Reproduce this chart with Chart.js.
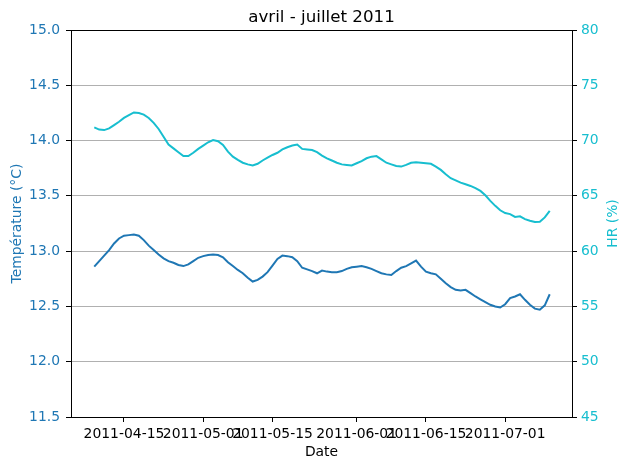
<!DOCTYPE html>
<html>
<head>
<meta charset="utf-8">
<script src="https://cdn.jsdelivr.net/npm/chart.js@4"></script>
<style>
  html, body { margin: 0; padding: 0; background: #fff; }
  canvas { display: block; }
</style>
</head>
<body>
<canvas id="chart" width="630" height="470"></canvas>
<script>
  // daily values, first day is 2011-04-09 (day 8 counted from 2011-04-01)
  const dayStart = 8;

  const tempC = [
    12.86, 12.91, 12.96, 13.01, 13.07, 13.115, 13.14, 13.145, 13.15, 13.14,
    13.10, 13.05, 13.01, 12.97, 12.935, 12.91, 12.895, 12.875, 12.865, 12.88,
    12.91, 12.94, 12.955, 12.965, 12.97, 12.965, 12.945, 12.90, 12.865, 12.83,
    12.80, 12.76, 12.725, 12.74, 12.77, 12.81, 12.87, 12.93, 12.96, 12.955,
    12.945, 12.91, 12.85, 12.835, 12.82, 12.80, 12.825, 12.815, 12.81, 12.81,
    12.82, 12.84, 12.855, 12.86, 12.865, 12.855, 12.84, 12.82, 12.80, 12.79,
    12.785, 12.82, 12.85, 12.865, 12.89, 12.915, 12.86, 12.815, 12.80, 12.79,
    12.75, 12.71, 12.675, 12.65, 12.645, 12.65, 12.62, 12.59, 12.565, 12.54,
    12.515, 12.50, 12.49, 12.52, 12.575, 12.59, 12.61, 12.56, 12.515, 12.48,
    12.47, 12.51, 12.61
  ];

  const hrPct = [
    71.2, 71.0, 70.95, 71.1, 71.4, 71.7, 72.05, 72.3, 72.55, 72.5,
    72.35, 72.05, 71.6, 71.05, 70.35, 69.65, 69.3, 68.95, 68.6, 68.6,
    68.9, 69.25, 69.55, 69.85, 70.05, 69.95, 69.6, 69.0, 68.55, 68.25,
    68.0, 67.85, 67.75, 67.9, 68.2, 68.45, 68.7, 68.9, 69.2, 69.4,
    69.55, 69.65, 69.25, 69.2, 69.15, 68.95, 68.65, 68.4, 68.2, 68.0,
    67.85, 67.8, 67.75, 67.95, 68.15, 68.4, 68.55, 68.6, 68.3, 68.0,
    67.85, 67.7, 67.65, 67.8, 68.0, 68.05, 68.0, 67.95, 67.9, 67.65,
    67.35, 66.95, 66.6, 66.4, 66.2, 66.05, 65.9, 65.7, 65.45, 65.05,
    64.55, 64.1, 63.7, 63.45, 63.35, 63.1, 63.15, 62.9, 62.75, 62.63,
    62.65, 63.05, 63.65
  ];

  const tickDays = [14, 30, 44, 61, 75, 91];
  const tickLabels = ["2011-04-15", "2011-05-01", "2011-05-15", "2011-06-01", "2011-06-15", "2011-07-01"];

  const T_COLOR = "#1f77b4";
  const HR_COLOR = "#17becf";

  Chart.defaults.font.family = "'DejaVu Sans', sans-serif";
  Chart.defaults.font.size = 13.9;
  Chart.defaults.color = "#000";

  function toPoints(values) {
    return values.map((v, i) => ({ x: dayStart + i, y: v }));
  }

  // top spine + right label (bottom-to-top like matplotlib)
  const framePlugin = {
    id: "frame",
    afterDraw(chart) {
      const { ctx, chartArea: a } = chart;
      ctx.save();
      ctx.strokeStyle = "#000";
      ctx.lineWidth = 1;
      ctx.beginPath();
      ctx.moveTo(a.left, Math.round(a.top) + 0.5);
      ctx.lineTo(a.right, Math.round(a.top) + 0.5);
      ctx.stroke();
      ctx.translate(613, (a.top + a.bottom) / 2);
      ctx.rotate(-Math.PI / 2);
      ctx.fillStyle = HR_COLOR;
      ctx.font = "13.9px 'DejaVu Sans'";
      ctx.textAlign = "center";
      ctx.textBaseline = "middle";
      ctx.fillText("HR (%)", 0, 0);
      ctx.restore();
    }
  };

  new Chart(document.getElementById("chart").getContext("2d"), {
    type: "line",
    data: {
      datasets: [
        {
          label: "Température",
          data: toPoints(tempC),
          borderColor: T_COLOR,
          borderWidth: 2,
          pointRadius: 0,
          tension: 0,
          yAxisID: "y",
        },
        {
          label: "HR",
          data: toPoints(hrPct),
          borderColor: HR_COLOR,
          borderWidth: 2,
          pointRadius: 0,
          tension: 0,
          yAxisID: "y1",
        },
      ],
    },
    options: {
      responsive: false,
      animation: false,
      devicePixelRatio: 1,
      layout: { padding: 0 },
      plugins: {
        legend: { display: false },
        tooltip: { enabled: false },
        title: {
          display: true,
          fullSize: false,
          text: "avril - juillet 2011",
          color: "#000",
          font: { size: 16.7, weight: "normal" },
          padding: { top: 8, bottom: 2 },
        },
      },
      scales: {
        x: {
          type: "linear",
          min: 3.3,
          max: 104.5,
          afterBuildTicks: (s) => { s.ticks = tickDays.map((v) => ({ value: v })); },
          afterFit: (s) => { s.height = 53; },
          ticks: {
            autoSkip: false,
            maxRotation: 0,
            minRotation: 0,
            padding: 4,
            callback: (v, i) => tickLabels[i],
          },
          grid: { drawOnChartArea: false, tickLength: 5, tickColor: "#000" },
          border: { color: "#000" },
          title: { display: true, text: "Date", padding: { top: 0, bottom: 9 } },
        },
        y: {
          position: "left",
          min: 11.5,
          max: 15,
          afterFit: (s) => { s.width = 71; },
          ticks: {
            stepSize: 0.5,
            color: T_COLOR,
            padding: 6,
            callback: (v) => v.toFixed(1),
          },
          grid: { color: "#b0b0b0", tickColor: "#000", tickLength: 5 },
          border: { color: "#000" },
          title: {
            display: true,
            text: "Température (°C)",
            color: T_COLOR,
            padding: { top: 9, bottom: 0 },
          },
        },
        y1: {
          position: "right",
          min: 45,
          max: 80,
          afterFit: (s) => { s.width = 58; },
          ticks: { stepSize: 5, color: HR_COLOR, padding: 4 },
          grid: { drawOnChartArea: false, tickColor: "#000", tickLength: 5 },
          border: { color: "#000" },
        },
      },
    },
    plugins: [framePlugin],
  });
</script>
</body>
</html>
